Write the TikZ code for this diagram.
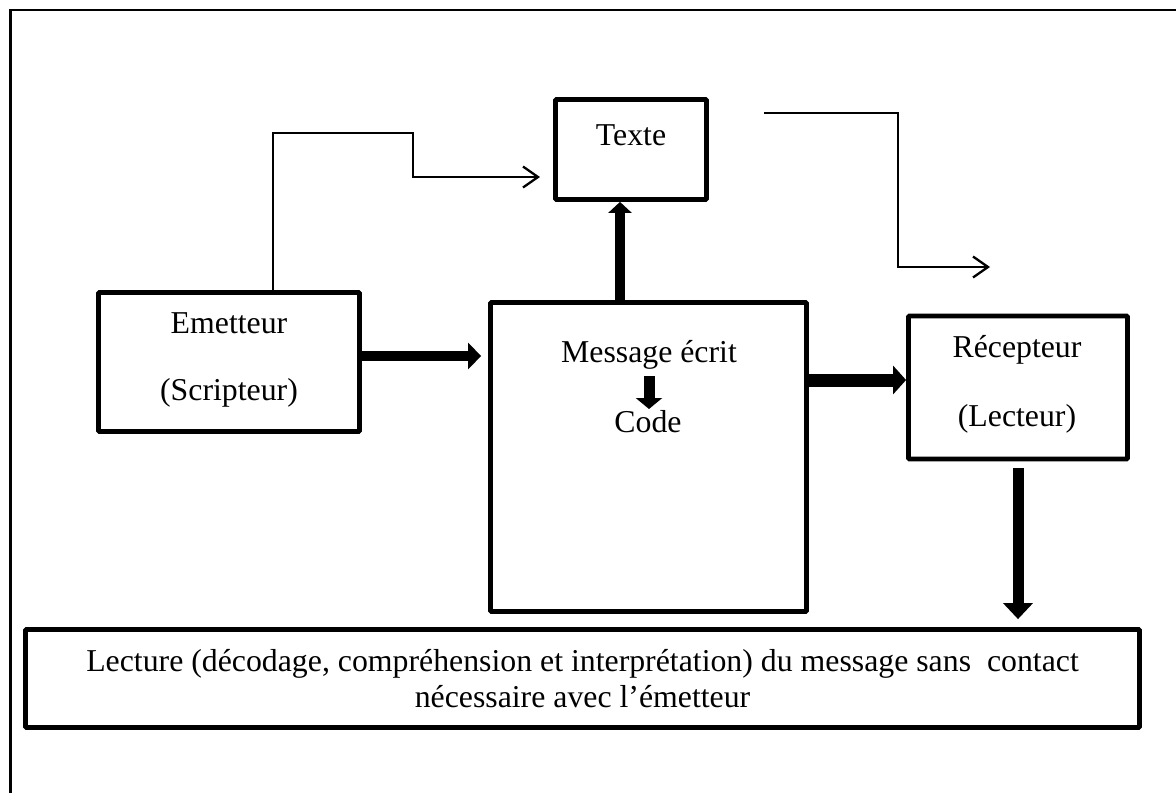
\documentclass[tikz,border=0pt]{standalone}
\usepackage{fontspec}
\setmainfont{Liberation Serif}
\usetikzlibrary{arrows.meta}

\begin{document}
\begin{tikzpicture}[x=1pt,y=-1pt,
  every node/.style={font=\fontsize{31.8pt}{36pt}\selectfont},
  box/.style={draw, line width=4.8pt, rounded corners=1pt, inner sep=0pt},
  lbl/.style={anchor=base, inner sep=0pt},
  bigarrow/.style={line width=#1, -{Triangle[length=13pt,width=26pt]}},
  thinarrow/.style={line width=2.3pt, -{Straight Barb[length=15pt,width=21pt,line width=2.3pt]}},
  frame/.style={line width=2.8pt}
]
\useasboundingbox (0,0) rectangle (1176,793);

% page frame (only the top and left sides are visible)
\draw[frame] (1176,10) -- (10.5,10) -- (10.5,793);

% boxes
\node[box, minimum width=151pt, minimum height=100pt] (tx) at (631,149.5) {};
\node[box, minimum width=261pt, minimum height=139pt] (em) at (229,362) {};
\node[box, minimum width=316pt, minimum height=309pt] (ms) at (648.5,457) {};
\node[box, minimum width=219pt, minimum height=143pt] (rc) at (1018,387.5) {};
\node[box, minimum width=1114pt, minimum height=98pt, align=center] (lec) at (582.5,678.5)
  {Lecture (décodage, compréhension et interprétation) du message sans\ \ contact\\
   nécessaire avec l’émetteur};

% texts inside the boxes
\node[lbl] (txt)  at (631,145) {Texte};
\node[lbl] (emt1) at (229,333) {Emetteur};
\node[lbl] (emt2) at (229,400) {(Scripteur)};
\node[lbl] (mst1) at (649,362) {Message écrit};
\node[lbl] (mst2) at (648,432) {Code};
\node[lbl] (rct1) at (1017,357) {Récepteur};
\node[lbl] (rct2) at (1017,426) {(Lecteur)};

% thick arrows
\draw[bigarrow=10pt, -{Triangle[length=13pt,width=26pt]}, shorten >=7pt] (em.east |- 0,356) -- (ms.west |- 0,356);
\draw[bigarrow=13pt, -{Triangle[length=13pt,width=28pt]}] (ms.east |- 0,380) -- (rc.west |- 0,380);
\draw[bigarrow=10pt, -{Triangle[length=11pt,width=23pt]}] ([xshift=-28.5pt]ms.north) -- ([xshift=-28.5pt]ms.north |- tx.south);
\draw[bigarrow=11pt, -{Triangle[length=16pt,width=29pt]}, shorten <=7pt, shorten >=8pt] (rc.south) -- (rc.south |- lec.north);
\draw[bigarrow=11pt, -{Triangle[length=11pt,width=26pt]}] (mst1.south |- 0,376) -- (mst1.south |- 0,409);

% thin connectors
\coordinate (txin)  at (540,177);
\coordinate (rcout) at (764,113);
\coordinate (rcin)  at (990,267);
\draw[thinarrow] ([xshift=44pt]em.north) |- (413,133) |- (txin);
\draw[thinarrow] (rcout) -| (898,267) -- (rcin);
\end{tikzpicture}
\end{document}
